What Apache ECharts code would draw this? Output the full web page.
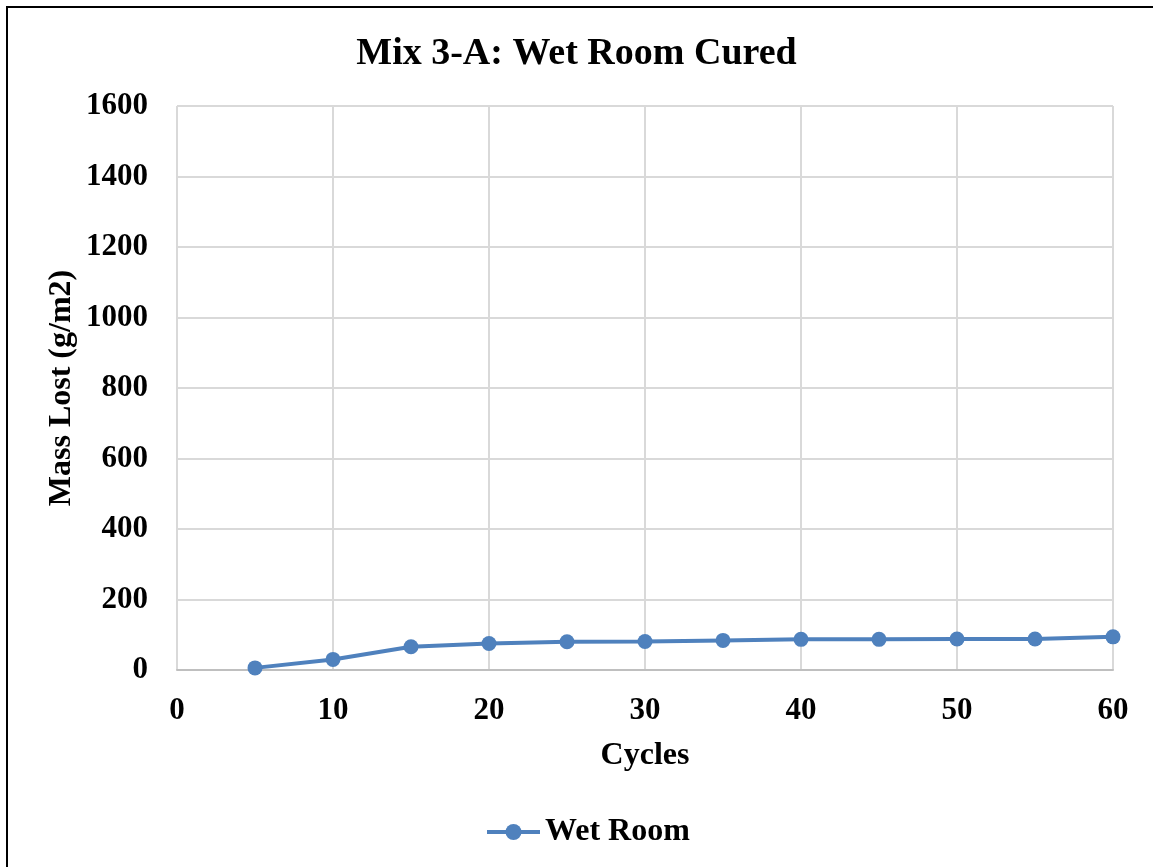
<!DOCTYPE html>
<html>
<head>
<meta charset="utf-8">
<script src="https://cdn.jsdelivr.net/npm/echarts@6/dist/echarts.min.js"></script>
<style>
html,body{margin:0;padding:0;background:#fff;}
#chart{width:1153px;height:867px;}
</style>
</head>
<body>
<div id="chart"></div>
<script>
const cycles = [5, 10, 15, 20, 25, 30, 35, 40, 45, 50, 55, 60];
const wetRoom = [6, 30, 66, 75, 80, 81, 84, 87, 87, 88, 88, 94];
const seriesName = 'Wet Room';
const titleText = 'Mix 3-A: Wet Room Cured';
const xName = 'Cycles';
const yName = 'Mass Lost (g/m2)';

const font = '"Liberation Serif", "Times New Roman", serif';
const chart = echarts.init(document.getElementById('chart'));
chart.setOption({
  backgroundColor: '#fff',
  animation: false,
  graphic: [{
    type: 'rect',
    shape: {x: 7, y: 7, width: 1160, height: 880},
    style: {fill: 'none', stroke: '#000', lineWidth: 2}
  }],
  title: {
    text: titleText,
    left: 'center',
    top: 30,
    textStyle: {fontFamily: font, fontWeight: 'bold', fontSize: 38, color: '#000'}
  },
  legend: {
    data: [seriesName],
    bottom: 14,
    left: 480,
    itemWidth: 53,
    itemHeight: 20,
    lineStyle: {width: 4},
    textStyle: {fontFamily: font, fontWeight: 'bold', fontSize: 32, color: '#000'}
  },
  grid: {left: 177, right: 40, top: 106, bottom: 197},
  xAxis: {
    type: 'value',
    min: 0, max: 60, interval: 10,
    name: xName,
    nameLocation: 'middle',
    nameGap: 70,
    nameTextStyle: {fontFamily: font, fontWeight: 'bold', fontSize: 32, color: '#000'},
    axisLine: {show: true, lineStyle: {color: '#bfbfbf', width: 2}},
    axisTick: {show: false},
    axisLabel: {fontFamily: font, fontWeight: 'bold', fontSize: 31, color: '#000', margin: 25},
    splitLine: {show: true, lineStyle: {color: '#d9d9d9', width: 2}}
  },
  yAxis: {
    type: 'value',
    min: 0, max: 1600, interval: 200,
    name: yName,
    nameLocation: 'middle',
    nameGap: 99,
    nameMoveOverlap: false,
    nameRotate: 90,
    nameTextStyle: {fontFamily: font, fontWeight: 'bold', fontSize: 32, color: '#000'},
    axisLine: {show: false},
    axisTick: {show: false},
    axisLabel: {fontFamily: font, fontWeight: 'bold', fontSize: 31, color: '#000', margin: 29,
      formatter: v => String(v)},
    splitLine: {show: true, lineStyle: {color: '#d9d9d9', width: 2}}
  },
  series: [{
    name: seriesName,
    type: 'line',
    data: cycles.map((c, i) => [c, wetRoom[i]]),
    symbol: 'circle',
    symbolSize: 15,
    itemStyle: {color: '#4f81bd'},
    lineStyle: {color: '#4f81bd', width: 4}
  }]
});
</script>
</body>
</html>
